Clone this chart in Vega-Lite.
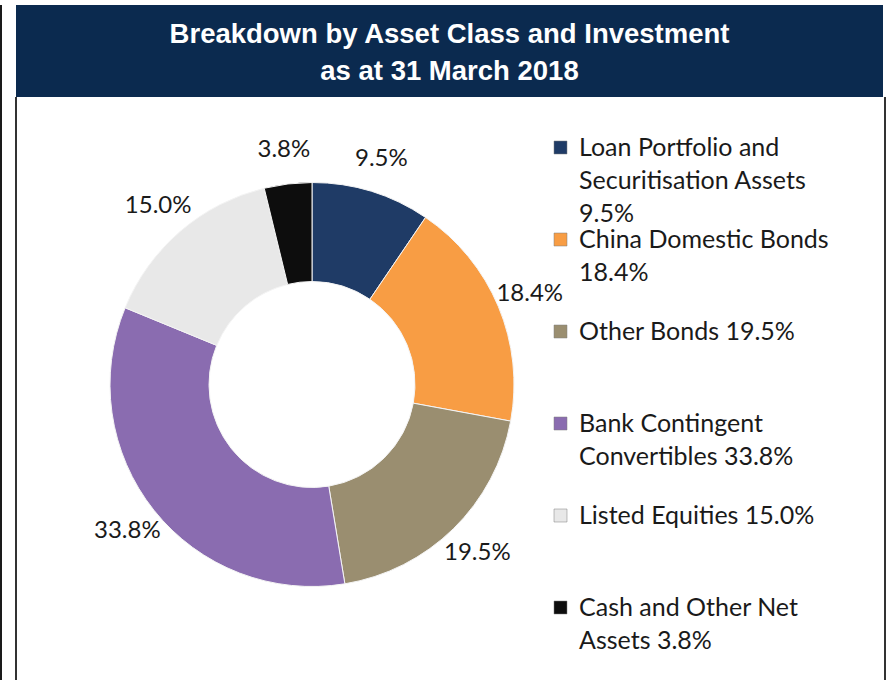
{
  "$schema": "https://vega.github.io/schema/vega-lite/v6.json",
  "background": "white",
  "padding": {"left": 0, "top": 5, "right": 0, "bottom": 0},
  "spacing": 0,
  "config": {
    "view": {"stroke": null},
    "style": {"guide-label": {"lineHeight": 33}}
  },
  "vconcat": [
    {
      "spacing": 0,
      "hconcat": [
        {
          "width": 2, "height": 92,
          "view": {"fill": "#1a1a1a", "stroke": null},
          "data": {"values": [{}]},
          "mark": {"type": "text", "text": ""}
        },
        {
          "width": 14, "height": 92,
          "view": {"fill": "white", "stroke": null},
          "data": {"values": [{}]},
          "mark": {"type": "text", "text": ""}
        },
        {
          "width": 867,
          "height": 92,
          "view": {"fill": "#0b2a4f", "stroke": null},
          "data": {"values": [
            {"line": 1, "text": "Breakdown by Asset Class and Investment"},
            {"line": 2, "text": "as at 31 March 2018"}
          ]},
          "mark": {"type": "text", "font": "Liberation Sans", "fontWeight": "bold", "fontSize": 27.5, "color": "white", "baseline": "middle", "align": "center", "dy": 2.5},
          "encoding": {
            "y": {"field": "line", "type": "ordinal", "axis": null, "scale": {"padding": 0.76}},
            "text": {"field": "text", "type": "nominal"}
          }
        }
      ]
    },
    {
      "spacing": 0,
      "hconcat": [
        {
          "width": 2, "height": 583,
          "view": {"fill": "#1a1a1a", "stroke": null},
          "data": {"values": [{}]},
          "mark": {"type": "text", "text": ""}
        },
        {
          "width": 13, "height": 583,
          "view": {"fill": "white", "stroke": null},
          "data": {"values": [{}]},
          "mark": {"type": "text", "text": ""}
        },
        {
          "width": 2, "height": 583,
          "view": {"fill": "#333333", "stroke": null},
          "data": {"values": [{}]},
          "mark": {"type": "text", "text": ""}
        },
        {
          "width": 590,
          "height": 575,
          "data": {"values": [
            {"order": 1, "category": "Loan Portfolio and Securitisation Assets", "pct": 9.5, "label": "9.5%", "legend": "Loan Portfolio and|Securitisation Assets|9.5%"},
            {"order": 2, "category": "China Domestic Bonds", "pct": 18.4, "label": "18.4%", "legend": "China Domestic Bonds|18.4%"},
            {"order": 3, "category": "Other Bonds", "pct": 19.5, "label": "19.5%", "legend": "Other Bonds 19.5%"},
            {"order": 4, "category": "Bank Contingent Convertibles", "pct": 33.8, "label": "33.8%", "legend": "Bank Contingent|Convertibles 33.8%"},
            {"order": 5, "category": "Listed Equities", "pct": 15.0, "label": "15.0%", "legend": "Listed Equities 15.0%"},
            {"order": 6, "category": "Cash and Other Net Assets", "pct": 3.8, "label": "3.8%", "legend": "Cash and Other Net|Assets 3.8%"}
          ]},
          "layer": [
            {
              "mark": {"type": "arc", "outerRadius": 202, "innerRadius": 103, "stroke": "#f4f4f4", "strokeWidth": 1},
              "encoding": {
                "theta": {"field": "pct", "type": "quantitative", "stack": true},
                "order": {"field": "order", "type": "quantitative", "sort": "ascending"},
                "color": {
                  "field": "legend", "type": "nominal",
                  "sort": {"field": "order"},
                  "scale": {"range": ["#1f3b66", "#f89d44", "#9a8e70", "#8a6cb0", "#e8e8e8", "#0d0d0d"]},
                  "legend": {
                    "orient": "none",
                    "legendX": 548,
                    "legendY": 130,
                    "title": null,
                    "padding": 0,
                    "symbolType": "square",
                    "symbolSize": 169,
                    "symbolStrokeColor": "#7f7f7f",
                    "symbolStrokeWidth": 0.5,
                    "labelFont": "Lato",
                    "labelFontSize": 25,
                    "labelColor": "#1a1a1a",
                    "labelOffset": 6,
                    "labelLimit": 400,
                    "labelExpr": "split(datum.label, '|')",
                    "gridAlign": "all",
                    "rowPadding": -0.5
                  }
                }
              }
            },
            {
              "mark": {"type": "text", "radius": 236, "font": "Lato", "fontSize": 24, "color": "#1a1a1a"},
              "encoding": {
                "theta": {"field": "pct", "type": "quantitative", "stack": true},
                "order": {"field": "order", "type": "quantitative", "sort": "ascending"},
                "detail": {"field": "category", "type": "nominal"},
                "text": {"field": "label", "type": "nominal"}
              }
            }
          ]
        },
        {
          "width": 277, "height": 583,
          "view": {"fill": "white", "stroke": null},
          "data": {"values": [{}]},
          "mark": {"type": "text", "text": ""}
        },
        {
          "width": 2, "height": 583,
          "view": {"fill": "#333333", "stroke": null},
          "data": {"values": [{}]},
          "mark": {"type": "text", "text": ""}
        }
      ]
    }
  ]
}
